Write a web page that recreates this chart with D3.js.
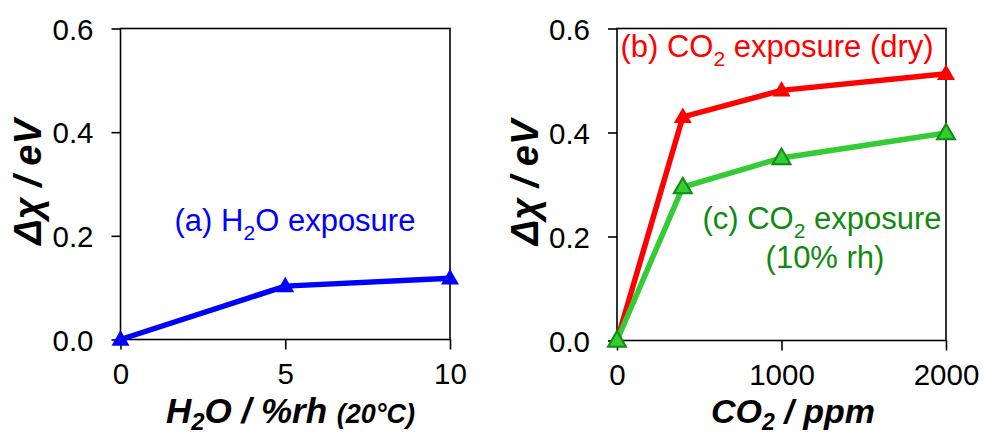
<!DOCTYPE html>
<html>
<head>
<meta charset="utf-8">
<script src="https://cdn.jsdelivr.net/npm/d3@7"></script>
<style>
  html, body { margin: 0; padding: 0; background: #fff; }
  svg { display: block; font-family: "Liberation Sans", Arial, sans-serif; }
</style>
</head>
<body>
<svg id="chart" width="984" height="434"></svg>
<script>
// Panel (a): work-function change vs humidity
const h2oX = [0, 5, 10];
const h2oY = [0, 0.103, 0.118];

// Panels (b), (c): work-function change vs CO2 concentration
const co2X = [0, 400, 1000, 2000];
const co2DryY = [0, 0.43, 0.481, 0.513];
const co2WetY = [0, 0.295, 0.351, 0.399];

const yTicks = [0, 0.2, 0.4, 0.6];
const h2oTicks = [0, 5, 10];
const co2Ticks = [0, 1000, 2000];

const svg = d3.select("#chart");

const BLUE = "#0000ff", RED = "#ff0000", GREEN_LINE = "#33cc33", GREEN_DARK = "#108a10";

// rich text helper: segments of [text, kind, size]; kind "sub" lowers, "after" restores baseline
function richText(g, x, y, segs, opts) {
  const t = g.append("text")
    .attr("x", x).attr("y", y)
    .attr("font-size", opts.size)
    .attr("fill", opts.fill || "#000")
    .attr("text-anchor", opts.anchor || "start")
    .attr("font-weight", opts.weight || "normal")
    .attr("font-style", opts.style || "normal");
  const drop = opts.size * (opts.subDrop || 0.28);
  segs.forEach(([s, kind, sz]) => {
    const ts = t.append("tspan").text(s);
    if (kind === "sub") {
      ts.attr("font-size", opts.size * 0.68).attr("dy", drop);
    } else if (kind === "after") {
      ts.attr("dy", -drop);
    } else if (kind === "small") {
      ts.attr("font-size", sz);
    }
  });
  return t;
}

function panel(cfg) {
  const g = svg.append("g");
  const x = d3.scaleLinear().domain(cfg.xDomain).range([cfg.left, cfg.right]);
  const y = d3.scaleLinear().domain([0, 0.6]).range([cfg.bottom, cfg.top]);

  // frame
  g.append("rect")
    .attr("x", cfg.left).attr("y", cfg.top)
    .attr("width", cfg.right - cfg.left).attr("height", cfg.bottom - cfg.top)
    .attr("fill", "none").attr("stroke", "#000").attr("stroke-width", 1.6);

  const yAxis = d3.axisLeft(y).tickValues(yTicks).tickFormat(d3.format(".1f"))
    .tickSize(9).tickPadding(18);
  const ya = g.append("g").attr("transform", `translate(${cfg.left},0)`).call(yAxis);
  const xAxis = d3.axisBottom(x).tickValues(cfg.xTicks).tickFormat(d3.format("d"))
    .tickSize(10).tickPadding(14);
  const xa = g.append("g").attr("transform", `translate(0,${cfg.bottom})`).call(xAxis);
  [ya, xa].forEach(a => {
    a.select(".domain").remove();
    a.selectAll(".tick line").attr("stroke", "#000").attr("stroke-width", 1.6);
    a.selectAll(".tick text").attr("font-size", 29.5).attr("fill", "#000")
      .attr("font-family", "Liberation Sans, Arial, sans-serif");
  });
  ya.selectAll(".tick text").attr("dy", "0.36em");
  xa.selectAll(".tick text").attr("dy", "0.71em");

  // y title
  g.append("text")
    .attr("transform", `translate(${cfg.yTitleX},${(cfg.top + cfg.bottom) / 2 - 2}) rotate(-90)`)
    .attr("text-anchor", "middle")
    .attr("font-size", 38).attr("font-weight", "bold").attr("font-style", "italic")
    .text("Δχ / eV");

  richText(g, cfg.xTitleX, 423, cfg.xTitle, { size: cfg.xTitleSize, weight: "bold", style: "italic", subDrop: 0.2 });

  const line = d3.line().x(d => x(d[0])).y(d => y(d[1]));
  const tri = d3.symbol().type(d3.symbolTriangle).size(140);

  cfg.series.forEach(s => {
    const pts = s.xs.map((v, i) => [v, s.ys[i]]);
    g.append("path").datum(pts).attr("d", line)
      .attr("fill", "none").attr("stroke", s.line).attr("stroke-width", 5.5)
      .attr("stroke-linejoin", "miter");
    g.selectAll(null).data(pts).join("path")
      .attr("d", tri)
      .attr("transform", d => `translate(${x(d[0])},${y(d[1]) + 1})`)
      .attr("fill", s.fill)
      .attr("stroke", s.stroke || "none")
      .attr("stroke-width", s.stroke ? 2 : 0);
  });

  cfg.labels.forEach(l => richText(g, l.x, l.y, l.segs, { size: 31, fill: l.fill, anchor: "middle" }));
}

panel({
  left: 120.5, right: 450, top: 28.5, bottom: 339.5,
  xDomain: [0, 10], xTicks: h2oTicks,
  yTitleX: 41,
  xTitleX: 166, xTitleSize: 35,
  xTitle: [["H"], ["2", "sub"], ["O / %rh ", "after"], ["(20°C)", "small", 27]],
  series: [{ xs: h2oX, ys: h2oY, line: BLUE, fill: BLUE }],
  labels: [{ x: 295, y: 231, fill: BLUE, segs: [["(a) H"], ["2", "sub"], ["O exposure", "after"]] }]
});

panel({
  left: 617, right: 946, top: 28.5, bottom: 340.5,
  xDomain: [0, 2000], xTicks: co2Ticks,
  yTitleX: 538,
  xTitleX: 711, xTitleSize: 34,
  xTitle: [["CO"], ["2", "sub"], [" / ppm", "after"]],
  series: [
    { xs: co2X, ys: co2DryY, line: RED, fill: RED },
    { xs: co2X, ys: co2WetY, line: GREEN_LINE, fill: GREEN_LINE, stroke: GREEN_DARK }
  ],
  labels: [
    { x: 777, y: 57, fill: RED, segs: [["(b) CO"], ["2", "sub"], [" exposure (dry)", "after"]] },
    { x: 822, y: 229, fill: GREEN_DARK, segs: [["(c) CO"], ["2", "sub"], [" exposure", "after"]] },
    { x: 825, y: 268, fill: GREEN_DARK, segs: [["(10% rh)"]] }
  ]
});
</script>
</body>
</html>
